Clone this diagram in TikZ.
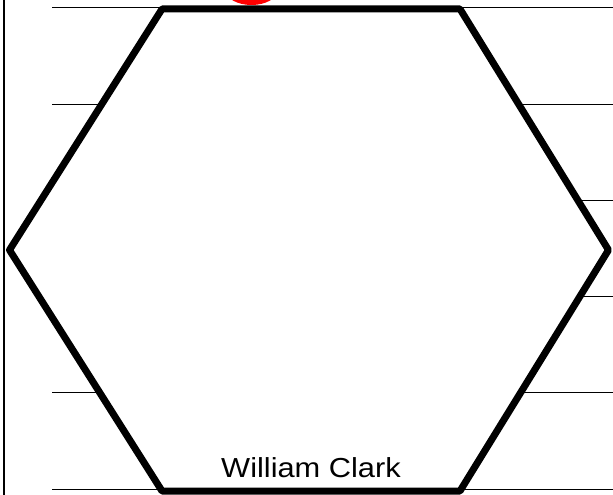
\documentclass[tikz,border=0pt]{standalone}
\usepackage{fontspec}
\setmainfont{Liberation Sans}
\tikzset{
  ruleline/.style={draw=black, line width=1pt},
  borderline/.style={draw=black, line width=1.3pt},
  hexedge/.style={draw=black, fill=white, line width=7pt, line join=round},
  marker/.style={fill=red, draw=none},
  namelabel/.style={font=\fontsize{27.5}{30}\selectfont, xscale=1.12, inner sep=0pt, anchor=base}
}
\begin{document}
\begin{tikzpicture}[x=1pt,y=-1pt]
\useasboundingbox (0,0) rectangle (613,495);
% left border
\coordinate (bt) at (4,0);
\coordinate (bb) at (4,495);
\draw[borderline] (bt) -- (bb);
% horizontal rules
\foreach \k in {0,...,5} {
  \coordinate (rl\k) at (52,{8+96.2*\k});
  \coordinate (rr\k) at (613,{8+96.2*\k});
  \draw[ruleline] (rl\k) -- (rr\k);
}
% red marker
\coordinate (mc) at (251.5,-10);
\fill[marker] (mc) ellipse[x radius=26, y radius=15];
% hexagon
\coordinate (h1) at (9.5,250);
\coordinate (h2) at (162,9);
\coordinate (h3) at (460,9);
\coordinate (h4) at (608.5,250);
\coordinate (h5) at (460,491);
\coordinate (h6) at (162,491);
\path[hexedge] (h1) -- (h2) -- (h3) -- (h4) -- (h5) -- (h6) -- cycle;
\node[namelabel] (name) at (311,477) {William Clark};
\end{tikzpicture}
\end{document}
